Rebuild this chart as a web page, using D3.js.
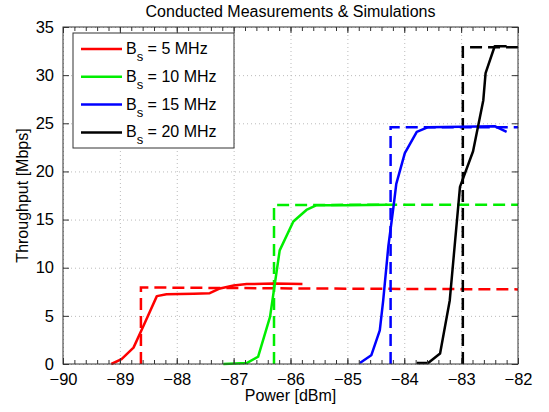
<!DOCTYPE html>
<html>
<head>
<meta charset="utf-8">
<script src="https://cdn.jsdelivr.net/npm/d3@7"></script>
<style>
body { margin:0; background:#fff; }
text { font-family: "Liberation Sans", Arial, sans-serif; }
.grid line { stroke:#bbb; stroke-dasharray:1,3; }
.grid path { display:none; }
</style>
</head>
<body>
<div id="chart"></div>
<script>
var labels = ["5", "10", "15", "20"];
var colors = ["#ff0000", "#00ee00", "#0000ff", "#000000"];

// measured (solid) curves: [power dBm, throughput Mbps]
var meas5  = [[-89.15,0],[-88.97,0.5],[-88.76,1.7],[-88.59,3.9],[-88.35,7.05],[-88.18,7.25],[-87.7,7.3],[-87.42,7.35],[-87.24,7.85],[-87.0,8.15],[-86.77,8.3],[-86.3,8.35],[-85.79,8.3]];
var meas10 = [[-87.18,0],[-86.77,0.1],[-86.57,0.75],[-86.36,4.9],[-86.19,11.8],[-85.95,14.8],[-85.72,16.0],[-85.54,16.5],[-85.0,16.5],[-84.3,16.55]];
var meas15 = [[-84.78,0.1],[-84.58,0.9],[-84.43,3.5],[-84.37,6.6],[-84.28,12.2],[-84.19,16.3],[-84.14,18.7],[-83.99,21.9],[-83.78,24.1],[-83.58,24.6],[-83.0,24.65],[-82.41,24.7],[-82.2,24.1]];
var meas20 = [[-83.78,0.1],[-83.58,0.1],[-83.37,1.1],[-83.2,6.6],[-83.02,18.4],[-82.79,22.1],[-82.61,27.4],[-82.57,30.2],[-82.41,33.0],[-82.2,33.0]];

// simulated (dashed) curves
var sim5  = [[-88.63,0],[-88.63,7.95],[-86,7.85],[-84,7.8],[-82,7.75]];
var sim10 = [[-86.29,0],[-86.29,16.5],[-84,16.55],[-82,16.55]];
var sim15 = [[-84.24,0],[-84.24,24.6],[-82,24.6]];
var sim20 = [[-82.97,0],[-82.97,32.9],[-82,32.9]];

var measured = [meas5, meas10, meas15, meas20];
var simulated = [sim5, sim10, sim15, sim20];

var xTicks = [-90,-89,-88,-87,-86,-85,-84,-83,-82];
var yTicks = [0,5,10,15,20,25,30,35];

var margin = { top:27, right:31, bottom:48, left:63 },
	width = 549 - margin.left - margin.right,
	height = 412 - margin.top - margin.bottom;

var x = d3.scaleLinear().domain([-90, -82]).range([0, width]);
var y = d3.scaleLinear().domain([0, 35]).range([height, 0]);

var svg = d3.select("#chart").append("svg")
	.attr("width", 549)
	.attr("height", 412);

var g = svg.append("g").attr("transform", "translate(" + margin.left + "," + margin.top + ")");

// grid
g.append("g").attr("class", "grid")
	.call(d3.axisBottom(x).tickValues(xTicks).tickSize(height).tickFormat(""));
g.append("g").attr("class", "grid")
	.call(d3.axisLeft(y).tickValues(yTicks).tickSize(-width).tickFormat(""));

var line = d3.line()
	.x(function(d) { return x(d[0]); })
	.y(function(d) { return y(d[1]); });

simulated.forEach(function(s, i) {
	g.append("path").datum(s)
		.attr("fill", "none")
		.attr("stroke", colors[i])
		.attr("stroke-width", 2.5)
		.attr("stroke-dasharray", "12,6")
		.attr("d", line);
});
measured.forEach(function(s, i) {
	g.append("path").datum(s)
		.attr("fill", "none")
		.attr("stroke", colors[i])
		.attr("stroke-width", 2.5)
		.attr("stroke-linejoin", "round")
		.attr("d", line);
});

// axes box + ticks
var minor = d3.range(-90, -81.99, 0.2).map(function(v){ return Math.round(v*10)/10; });
function styleAx(sel) {
	sel.select(".domain").remove();
	sel.selectAll(".tick line").attr("stroke", "#333");
	sel.selectAll("text").attr("fill", "#000").style("font-size", "16.5px");
}
g.append("g").attr("transform", "translate(0," + height + ")")
	.call(d3.axisBottom(x).tickValues(minor).tickSize(-4).tickFormat(""))
	.call(styleAx);
g.append("g")
	.call(d3.axisTop(x).tickValues(minor).tickSize(-4).tickFormat(""))
	.call(styleAx);
g.append("g").attr("transform", "translate(0," + height + ")")
	.call(d3.axisBottom(x).tickValues(xTicks).tickSize(-6).tickPadding(9)
		.tickFormat(function(d){ return d < 0 ? "\u2212" + Math.abs(d) : d; }))
	.call(styleAx);
g.append("g")
	.call(d3.axisTop(x).tickValues(xTicks).tickSize(-6).tickFormat(""))
	.call(styleAx);
g.append("g")
	.call(d3.axisLeft(y).tickValues(yTicks).tickSize(-6).tickPadding(9))
	.call(styleAx);
g.append("g").attr("transform", "translate(" + width + ",0)")
	.call(d3.axisRight(y).tickValues(yTicks).tickSize(-6).tickFormat(""))
	.call(styleAx);

g.append("rect").attr("width", width).attr("height", height)
	.attr("fill", "none").attr("stroke", "#333").attr("stroke-width", 1);

// labels
svg.append("text").attr("x", margin.left + width/2).attr("y", 17)
	.attr("text-anchor", "middle").style("font-size", "16px")
	.text("Conducted Measurements & Simulations");
svg.append("text").attr("x", margin.left + width/2).attr("y", 401)
	.attr("text-anchor", "middle").style("font-size", "16px")
	.text("Power [dBm]");
svg.append("text")
	.attr("transform", "translate(28," + (margin.top + height/2) + ") rotate(-90)")
	.attr("text-anchor", "middle").style("font-size", "16px")
	.text("Throughput [Mbps]");

// legend
var lg = svg.append("g").attr("transform", "translate(73,33)");
lg.append("rect").attr("width", 161).attr("height", 115)
	.attr("fill", "#fff").attr("stroke", "#333");
labels.forEach(function(l, i) {
	var yy = 16 + i * 27.8;
	lg.append("line").attr("x1", 8).attr("x2", 49).attr("y1", yy).attr("y2", yy)
		.attr("stroke", colors[i]).attr("stroke-width", 2.5);
	var t = lg.append("text").attr("x", 53).attr("y", yy + 5).style("font-size", "16px");
	t.append("tspan").text("B");
	t.append("tspan").attr("dy", 7).style("font-size", "13px").text("s");
	t.append("tspan").attr("dy", -7).text(" = " + l + " MHz");
});
</script>
</body>
</html>
